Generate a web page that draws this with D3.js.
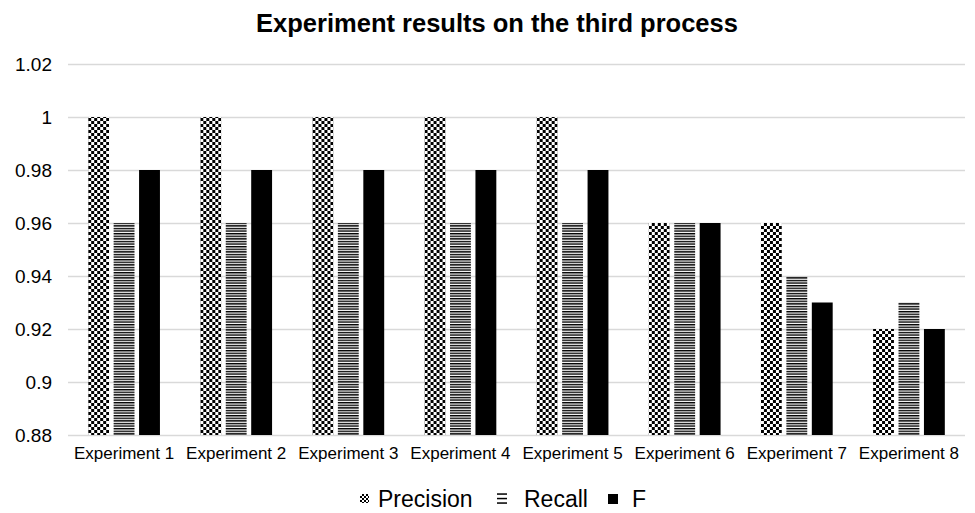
<!DOCTYPE html>
<html>
<head>
<meta charset="utf-8">
<script src="https://cdn.jsdelivr.net/npm/d3@7"></script>
<style>
  body { margin: 0; background: #fff; }
  text { font-family: "Liberation Sans", Arial, sans-serif; fill: #000; }
</style>
</head>
<body>
<div id="chart"></div>
<script>
const categories = ["Experiment 1", "Experiment 2", "Experiment 3", "Experiment 4",
                    "Experiment 5", "Experiment 6", "Experiment 7", "Experiment 8"] ;
const precision = [1, 1, 1, 1, 1, 0.96, 0.96, 0.92] ;
const recall    = [0.96, 0.96, 0.96, 0.96, 0.96, 0.96, 0.94, 0.93] ;
const fscore    = [0.98, 0.98, 0.98, 0.98, 0.98, 0.96, 0.93, 0.92] ;
const seriesNames = ["Precision", "Recall", "F"] ;
const yTicks = [0.88, 0.9, 0.92, 0.94, 0.96, 0.98, 1, 1.02] ;

const series = [
  {name: seriesNames[0], values: precision, fill: "url(#checker)"},
  {name: seriesNames[1], values: recall,    fill: "url(#stripes)"},
  {name: seriesNames[2], values: fscore,    fill: "#000"}
] ;

const dimensions = {
  width: 975,
  height: 513,
  margin: {top: 64, right: 10, bottom: 78, left: 68},
}
dimensions.boundedWidth = dimensions.width - dimensions.margin.left - dimensions.margin.right
dimensions.boundedHeight = dimensions.height - dimensions.margin.top - dimensions.margin.bottom

const svg = d3.select("#chart").append("svg")
    .attr("width", dimensions.width)
    .attr("height", dimensions.height)
;

// patterns (excel-style pattern fills)
const defs = svg.append("defs") ;
function makeChecker(id, cell) {
  const p = defs.append("pattern")
      .attr("id", id)
      .attr("patternUnits", "userSpaceOnUse")
      .attr("width", cell * 2).attr("height", cell * 2) ;
  p.append("rect").attr("width", cell * 2).attr("height", cell * 2).attr("fill", "#fff") ;
  p.append("rect").attr("width", cell).attr("height", cell).attr("fill", "#000") ;
  p.append("rect").attr("x", cell).attr("y", cell).attr("width", cell).attr("height", cell).attr("fill", "#000") ;
}
makeChecker("checker", 3) ;
makeChecker("checker-sm", 2) ;

const stripes = defs.append("pattern")
    .attr("id", "stripes")
    .attr("patternUnits", "userSpaceOnUse")
    .attr("width", 6).attr("height", 2.6) ;
stripes.append("rect").attr("width", 6).attr("height", 2.6).attr("fill", "#fff") ;
stripes.append("rect").attr("width", 6).attr("height", 1.4).attr("fill", "#000") ;

const bounds = svg.append("g")
    .attr("transform", `translate(${dimensions.margin.left},${dimensions.margin.top})`) ;

const yScale = d3.scaleLinear()
  .domain([0.88, 1.02])
  .range([dimensions.boundedHeight, 0]) ;

const xScale = d3.scaleBand()
  .domain(categories)
  .range([0, dimensions.boundedWidth])
  .paddingInner(0.36)
  .paddingOuter(0.18) ;

const subScale = d3.scaleBand()
  .domain(seriesNames)
  .range([0, xScale.bandwidth()])
  .paddingInner(0.18) ;

// gridlines
bounds.append("g")
  .selectAll("line")
  .data(yTicks)
  .enter().append("line")
    .attr("x1", 0)
    .attr("x2", dimensions.boundedWidth)
    .attr("y1", d => Math.round(yScale(d)) + 0.5)
    .attr("y2", d => Math.round(yScale(d)) + 0.5)
    .attr("stroke", "#d9d9d9")
    .attr("stroke-width", 1.3)
;

// y axis labels
const yAxis = bounds.append("g")
  .call(d3.axisLeft(yScale).tickValues(yTicks).tickFormat(d => d3.format("~g")(+d.toFixed(2))).tickSize(0).tickPadding(16))
;
yAxis.select(".domain").remove() ;
yAxis.selectAll("text").style("font-size", "19px").attr("font-family", null) ;

// bars
const groups = bounds.selectAll(".grp")
  .data(categories)
  .enter().append("g")
    .attr("transform", d => `translate(${xScale(d)},0)`) ;

groups.selectAll("rect")
  .data((d, i) => series.map(s => ({name: s.name, value: s.values[i], fill: s.fill})))
  .enter().append("rect")
    .attr("x", d => subScale(d.name))
    .attr("width", subScale.bandwidth())
    .attr("y", d => yScale(d.value))
    .attr("height", d => yScale(0.88) - yScale(d.value))
    .attr("fill", d => d.fill)
;

// x axis
const xAxis = bounds.append("g")
  .attr("transform", `translate(0,${dimensions.boundedHeight})`)
  .call(d3.axisBottom(xScale.copy().paddingInner(0).paddingOuter(0)).tickSize(0).tickPadding(12)) ;
xAxis.select(".domain").remove() ;
xAxis.selectAll("text").style("font-size", "17px").attr("font-family", null) ;

// title
svg.append("text")
  .attr("x", 497)
  .attr("y", 32)
  .attr("text-anchor", "middle")
  .style("font-size", "25.5px")
  .style("font-weight", "bold")
  .text("Experiment results on the third process") ;

// legend
const legend = svg.append("g") ;
const legendItems = [
  {name: seriesNames[0], tx: 378},
  {name: seriesNames[1], tx: 524},
  {name: seriesNames[2], tx: 632}
] ;
// precision icon
legend.append("rect").attr("x", 360).attr("y", 494).attr("width", 9).attr("height", 9).attr("fill", "url(#checker-sm)") ;
// recall icon
[494, 498.5, 503].forEach(y => {
  legend.append("rect").attr("x", 497).attr("y", y - 0.7).attr("width", 10).attr("height", 1.5).attr("fill", "#000") ;
}) ;
// F icon
legend.append("rect").attr("x", 608).attr("y", 494).attr("width", 10).attr("height", 10).attr("fill", "#000") ;

legend.selectAll("text.lg")
  .data(legendItems)
  .enter().append("text")
    .attr("class", "lg")
    .attr("x", d => d.tx)
    .attr("y", 507)
    .style("font-size", "23px")
    .text(d => d.name) ;
</script>
</body>
</html>
